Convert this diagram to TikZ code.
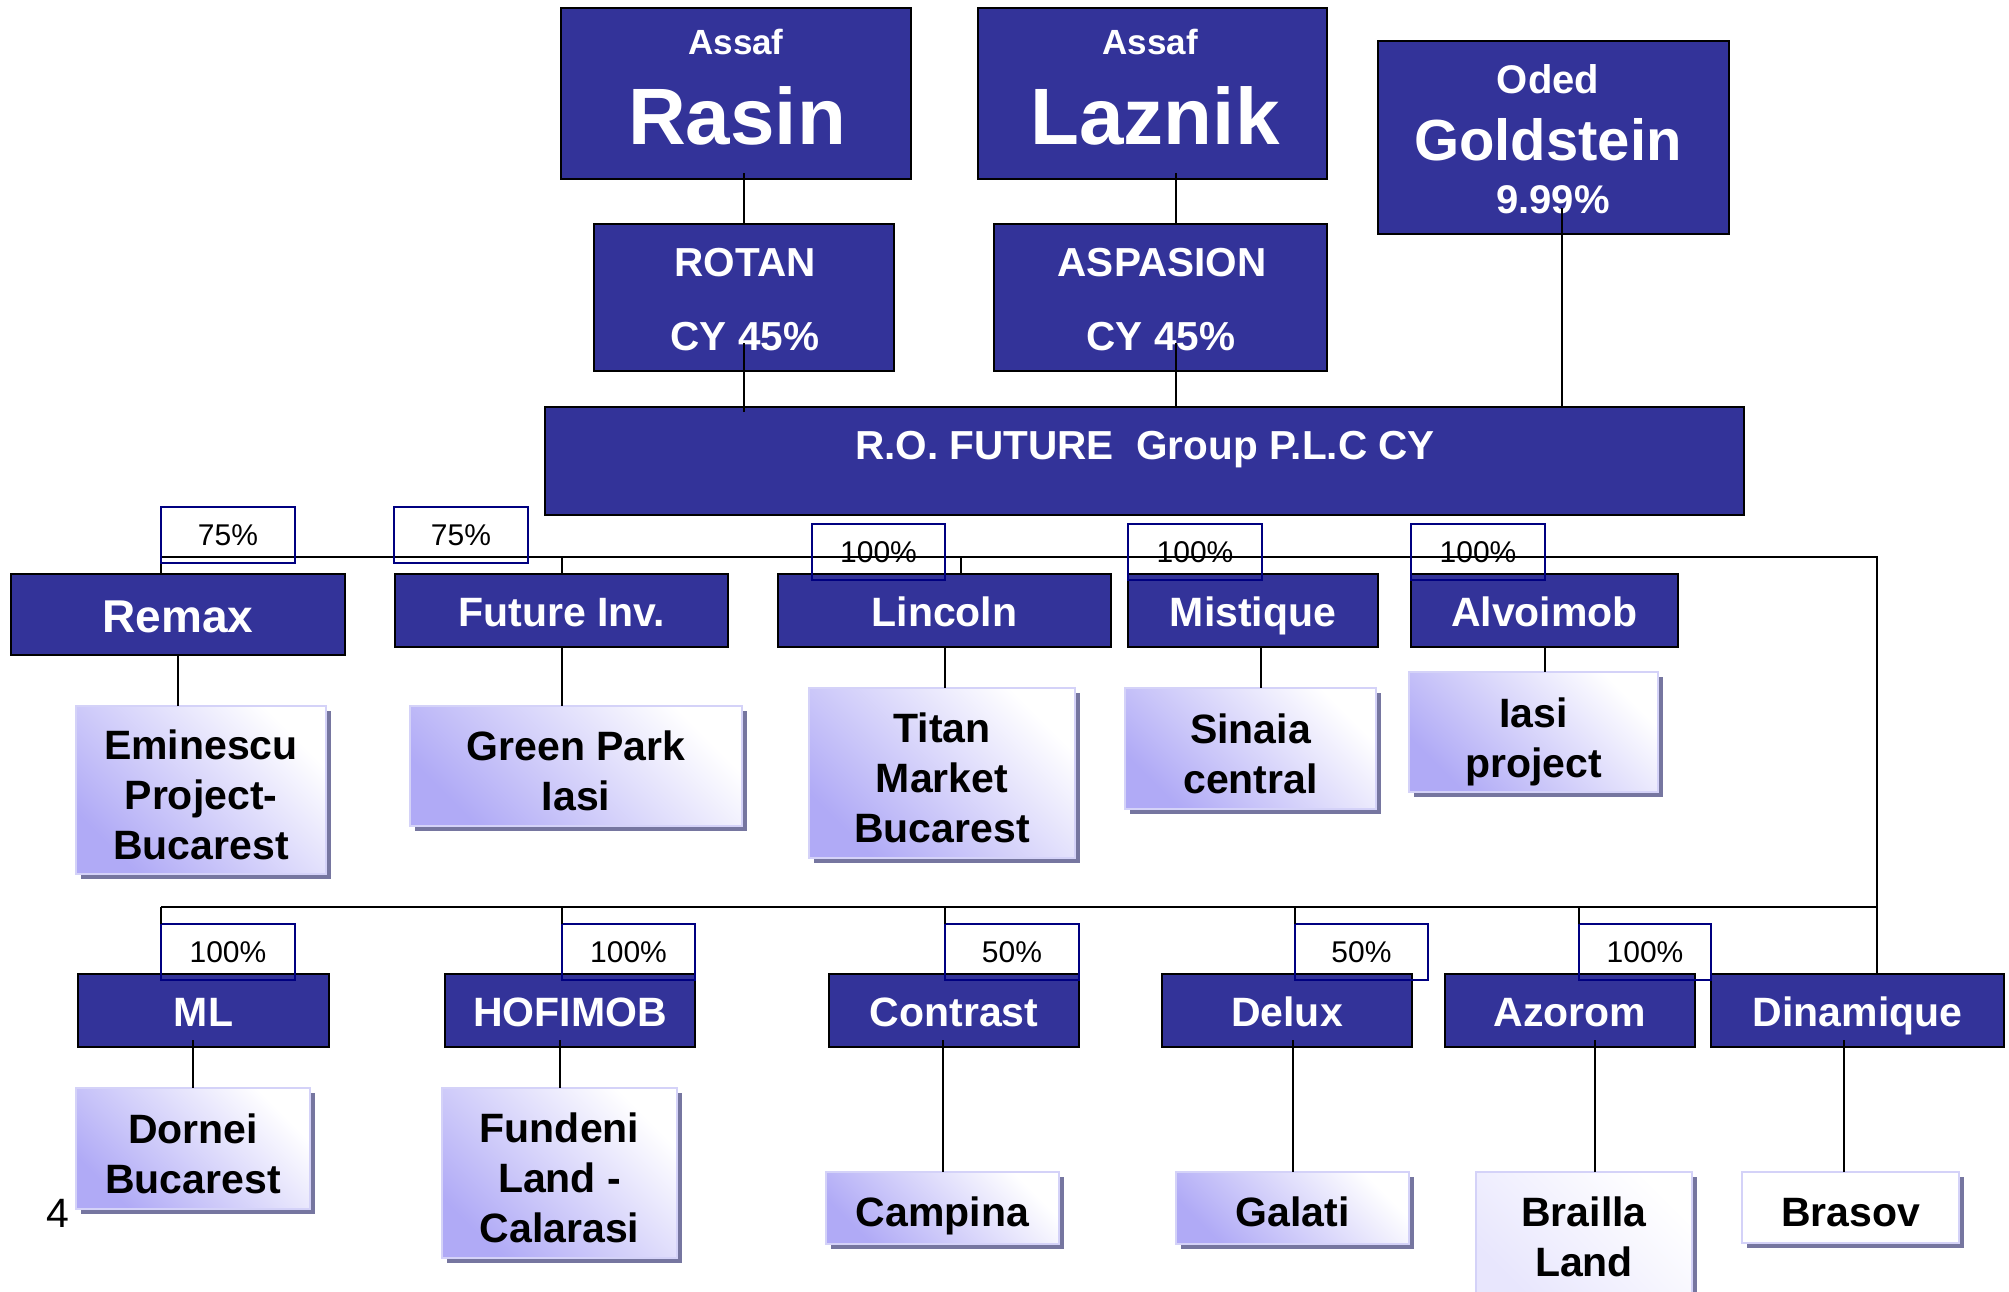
\documentclass[tikz,border=0pt]{standalone}
\usepackage{fontspec}
\setmainfont{Liberation Sans}
\usetikzlibrary{shadows}
\definecolor{navy}{RGB}{51,51,153}
\definecolor{lav}{RGB}{176,170,246}
\definecolor{lavl}{RGB}{232,230,253}
\definecolor{lavb}{RGB}{212,210,248}
\definecolor{shd}{RGB}{118,118,160}
\definecolor{pctc}{RGB}{0,0,128}
\newcommand\fsz[1]{\fontsize{#1}{#1}\selectfont}
\newcommand\upr{\rule{0pt}{40pt}}
\newcommand\mkbx[7]{\node[#2, minimum width={#5-#3}, minimum height={#6-#4}] (#1) at (#3,#4) {#7};}
\tikzset{
  co/.style={draw=black, line width=2pt, fill=navy, text=white, font=\bfseries\fsz{41},
    inner sep=0pt, outer sep=0pt, anchor=north west, text height=32.5pt, text depth=0pt},
  pj/.style={draw=lavb, line width=2.5pt, top color=white, bottom color=lav, shading angle=-45,
    drop shadow={shadow xshift=4.5pt, shadow yshift=-4.5pt, fill=shd, opacity=1},
    font=\bfseries\fontsize{41}{50}\selectfont, align=center, inner sep=0pt, outer sep=0pt, anchor=north west},
  one/.style={text height=37.5pt, text depth=0pt},
  pc/.style={draw=pctc, line width=1.5pt, font=\fsz{30}, text height=21.5pt, text depth=0pt,
    inner sep=0pt, outer sep=0pt, anchor=north west},
  cn/.style={draw=black, line width=2pt},
  wt/.style={text=white, inner sep=0pt, anchor=base},
}
\begin{document}
\begin{tikzpicture}[x=1pt,y=-1pt]
\useasboundingbox (0,0) rectangle (2009,1291);
\clip (0,0) rectangle (2009,1291);
\coordinate (b1L) at (161,557);
\coordinate (b1R) at (1877,557);
\coordinate (b2L) at (161,907);
\coordinate (b2R) at (1877,907);
\coordinate (lzx) at (1176,0);
\coordinate (gdx) at (1562,0);

% top level
\mkbx{rasin}{co}{561}{8}{911}{179}{}
\mkbx{laznik}{co}{978}{8}{1327}{179}{}
\mkbx{gold}{co}{1378}{41}{1729}{234}{}
\mkbx{rotan}{co}{594}{224}{894}{371}{}
\mkbx{aspa}{co}{994}{224}{1327}{371}{}
\mkbx{future}{co}{545}{407}{1744}{515}{}
\node[wt, font=\bfseries\fsz{35}] (rasinA) at (736,54) {Assaf};
\node[wt, font=\bfseries\fsz{80}] (rasinB) at (737,144) {Rasin};
\node[wt, font=\bfseries\fsz{35}] (laznikA) at (1150,54) {Assaf};
\node[wt, font=\bfseries\fsz{80}] (laznikB) at (1155,144) {Laznik};
\node[wt, font=\bfseries\fsz{40}] (goldA) at (1548,93) {Oded};
\node[wt, font=\bfseries\fsz{58}] (goldB) at (1548,160) {Goldstein};
\node[wt, font=\bfseries\fsz{40}] (goldC) at (1553,213) {9.99\%};
\node[wt, font=\bfseries\fsz{40.5}] (rotanA) at (745,276) {ROTAN};
\node[wt, font=\bfseries\fsz{40.5}] (rotanB) at (745,350) {CY 45\%};
\node[wt, font=\bfseries\fsz{40.5}] (aspaA) at (1162,276) {ASPASION};
\node[wt, font=\bfseries\fsz{40.5}] (aspaB) at (1161,350) {CY 45\%};
\node[wt, font=\bfseries\fsz{40.5}] (futureA) at (1145,459) {R.O. FUTURE\ \ Group P.L.C CY};

% row 2 projects
\mkbx{emin}{pj}{76}{706}{326}{874}{\upr Eminescu\\Project-\\Bucarest}
\mkbx{green}{pj}{410}{706}{742}{826}{\upr Green Park\\Iasi}
\mkbx{titan}{pj}{809}{688}{1075}{858}{\upr Titan\\Market\\Bucarest}
\mkbx{sinaia}{pj}{1125}{688}{1376}{809}{\upr Sinaia\\central}
\mkbx{iasi}{pj}{1409}{672}{1658}{792}{\upr Iasi\\\smash{project}}

% row 4 projects
\mkbx{dornei}{pj}{76}{1088}{310}{1209}{\upr Dornei\\Bucarest}
\mkbx{fundeni}{pj}{442}{1088}{677}{1258}{\upr Fundeni\\Land -\\Calarasi}
\mkbx{campina}{pj, one}{826}{1172}{1059}{1244}{Campina}
\mkbx{galati}{pj, one}{1176}{1172}{1409}{1244}{Galati}
\mkbx{brailla}{pj, bottom color=lavl, shading angle=-45}{1476}{1172}{1692}{1297}{\rule{0pt}{35pt}Brailla\\Land}
\mkbx{brasov}{pj, one, top color=white, bottom color=white, shading angle=-45}{1742}{1172}{1959}{1243}{Brasov}

% row 1 companies
\mkbx{remax}{co, font=\bfseries\fsz{46}, text height=36pt}{11}{574}{345}{655}{Remax}
\mkbx{futinv}{co}{395}{574}{728}{647}{Future Inv.}
\mkbx{linc}{co}{778}{574}{1111}{647}{Lincoln}
\mkbx{mist}{co}{1128}{574}{1378}{647}{Mistique}
\mkbx{alvo}{co}{1411}{574}{1678}{647}{Alvoimob}

% row 3 companies
\mkbx{ml}{co}{78}{974}{329}{1047}{ML}
\mkbx{hof}{co}{445}{974}{695}{1047}{HOFIMOB}
\mkbx{contrast}{co}{829}{974}{1079}{1047}{Contrast}
\mkbx{delux}{co}{1162}{974}{1412}{1047}{Delux}
\mkbx{azorom}{co}{1445}{974}{1695}{1047}{Azorom}
\mkbx{dina}{co}{1711}{974}{2004}{1047}{Dinamique}

% connectors
\draw[cn] (rotan.north |- rasin.south) ++(0,-6) -- (rotan.north);
\draw[cn] (rotan.south) ++(0,-28) -- (rotan.south |- future.north) -- ++(0,5);
\draw[cn] (lzx |- laznik.south) ++(0,-6) -- (lzx |- aspa.north);
\draw[cn] (lzx |- aspa.south) ++(0,-28) -- (lzx |- future.north);
\draw[cn] (gdx |- gold.south) ++(0,-26) -- (gdx |- future.north);

\draw[cn] (b1L) -- (b1R) -- (b1R |- dina.north);
\draw[cn] (b2L) -- (b2R);
\draw[cn] (b1L) -- (b1L |- remax.north);
\draw[cn] (futinv.north |- b1L) -- (futinv.north);
\draw[cn] ([xshift=16.5pt]linc.north) -- ++(0,-17);
\draw[cn] (mist.north west) -- ++(0,-17);
\draw[cn] (alvo.north west) -- ++(0,-17);

\draw[cn] (remax.south) -- (remax.south |- emin.north);
\draw[cn] (futinv.south) -- (futinv.south |- green.north);
\draw[cn] (linc.south) -- (linc.south |- titan.north);
\draw[cn] ([xshift=8pt]mist.south) -- ++(0,41);
\draw[cn] (alvo.south) -- (alvo.south |- iasi.north);

% percentage boxes
\mkbx{remaxp}{pc}{161}{507}{295}{563}{75\%}
\mkbx{futp}{pc}{394}{507}{528}{563}{75\%}
\mkbx{lincp}{pc}{812}{524}{945}{580}{100\%}
\mkbx{mistp}{pc}{1128}{524}{1262}{580}{100\%}
\mkbx{alvop}{pc}{1411}{524}{1545}{580}{100\%}
\mkbx{mlp}{pc}{161}{924}{295}{980}{100\%}
\mkbx{hofp}{pc}{562}{924}{695}{980}{100\%}
\mkbx{contp}{pc}{945}{924}{1079}{980}{50\%}
\mkbx{delp}{pc}{1295}{924}{1428}{980}{50\%}
\mkbx{azop}{pc}{1579}{924}{1711}{980}{100\%}

\draw[cn] (b2L) -- (mlp.north west);
\draw[cn] (hofp.north west) -- ++(0,-17);
\draw[cn] (contp.north west) -- ++(0,-17);
\draw[cn] (delp.north west) -- ++(0,-17);
\draw[cn] (azop.north west) -- ++(0,-17);

\draw[cn] (ml.south -| dornei.north) ++(0,-7) -- (dornei.north);
\draw[cn] (hof.south -| fundeni.north) ++(0,-7) -- (fundeni.north);
\draw[cn] (contrast.south -| campina.north) ++(0,-7) -- (campina.north);
\draw[cn] (delux.south -| galati.north) ++(0,-7) -- (galati.north);
\draw[cn] ([xshift=11pt]brailla.north) -- ++(0,-132);
\draw[cn] ([xshift=-6.5pt]brasov.north) -- ++(0,-132);

\node[font=\fsz{41}, anchor=base, inner sep=0pt] (pnum) at (58,1227) {4};
\end{tikzpicture}
\end{document}
